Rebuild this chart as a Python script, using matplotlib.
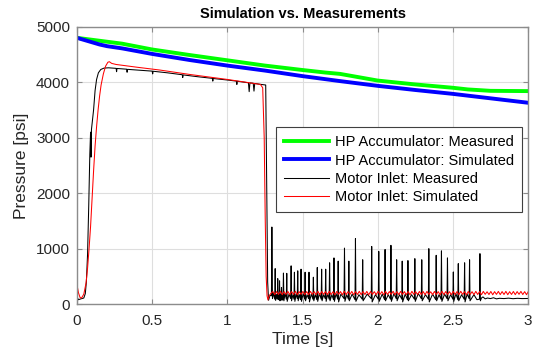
"""
    plot.py
    Simulation vs. measurements: accumulator and motor inlet pressure
"""

import matplotlib

matplotlib.use("Agg")
import matplotlib.pyplot as plt
import numpy as np
from matplotlib.ticker import FormatStrFormatter

plt.rcParams["font.family"] = ["Liberation Sans", "DejaVu Sans"]

# HP accumulator pressure [psi]
acc_meas_t = [0.0, 0.1, 0.2, 0.3, 0.5, 0.75, 1.0, 1.25, 1.5, 1.65, 1.75, 2.0, 2.25, 2.5, 2.6, 2.75, 3.0]
acc_meas_p = [4800, 4765, 4730, 4695, 4590, 4490, 4395, 4300, 4220, 4175, 4150, 4030, 3960, 3900, 3870, 3845, 3840]

acc_sim_t = [0.0, 0.05, 0.1, 0.15, 0.2, 0.3, 0.5, 0.75, 1.0, 1.25, 1.5, 1.75, 2.0, 2.25, 2.5, 2.75, 3.0]
acc_sim_p = [4800, 4760, 4720, 4680, 4650, 4610, 4510, 4400, 4300, 4210, 4110, 4020, 3935, 3860, 3790, 3710, 3630]

# Motor inlet, measured (t [s], p [psi])
motor_meas = [
    (0.000, 120), (0.010, 80), (0.025, 95), (0.045, 110), (0.055, 190), (0.062, 400),
    (0.070, 900), (0.078, 1800), (0.085, 2700), (0.090, 3100), (0.093, 2650), (0.096, 3150),
    (0.102, 3300), (0.110, 3500), (0.120, 3850), (0.130, 4050), (0.142, 4170), (0.158, 4230),
    (0.180, 4255), (0.210, 4260), (0.260, 4250), (0.263, 4190), (0.266, 4248), (0.330, 4235),
    (0.333, 4180), (0.336, 4232), (0.420, 4215), (0.500, 4200), (0.503, 4150), (0.506, 4198),
    (0.600, 4170), (0.700, 4135), (0.703, 4085), (0.706, 4132), (0.800, 4100), (0.900, 4070),
    (0.903, 4020), (0.906, 4067), (1.000, 4040), (1.060, 4020), (1.063, 3960), (1.066, 4018),
    (1.140, 3990), (1.145, 3830), (1.150, 3988), (1.172, 3982), (1.177, 3840), (1.182, 3978),
    (1.220, 3962), (1.255, 3950), (1.262, 2000), (1.268, 400), (1.274, 70), (1.284, 160),
    (1.293, 150), (1.296, 1390), (1.300, 100), (1.306, 200),
    (1.315, 90), (1.318, 640), (1.321, 70), (1.327, 170),
    (1.332, 100), (1.335, 460), (1.338, 80), (1.342, 160),
    (1.345, 90), (1.347, 420), (1.350, 60), (1.355, 180),
    (1.358, 100), (1.360, 300), (1.363, 70), (1.367, 150),
    (1.370, 80), (1.373, 560), (1.376, 60), (1.384, 190),
    (1.392, 90), (1.395, 555), (1.398, 50), (1.410, 180),
    (1.421, 100), (1.424, 690), (1.427, 60), (1.436, 170),
    (1.443, 90), (1.446, 575), (1.449, 50), (1.458, 180),
    (1.465, 100), (1.468, 600), (1.471, 60), (1.480, 170),
    (1.487, 80), (1.490, 630), (1.493, 50), (1.504, 190),
    (1.514, 90), (1.517, 575), (1.520, 60), (1.530, 170),
    (1.540, 100), (1.543, 575), (1.546, 40), (1.558, 180),
    (1.569, 90), (1.572, 485), (1.575, 60), (1.585, 170),
    (1.595, 80), (1.598, 660), (1.601, 50), (1.612, 190),
    (1.624, 90), (1.627, 630), (1.630, 60), (1.640, 170),
    (1.651, 100), (1.654, 630), (1.657, 50), (1.667, 180),
    (1.677, 90), (1.680, 745), (1.683, 60), (1.695, 170),
    (1.706, 80), (1.709, 833), (1.712, 50), (1.723, 190),
    (1.734, 90), (1.737, 775), (1.740, 40), (1.755, 180),
    (1.776, 100), (1.779, 1010), (1.782, 50), (1.794, 170),
    (1.805, 90), (1.808, 775), (1.811, 60), (1.830, 180),
    (1.849, 80), (1.852, 1180), (1.855, 50), (1.875, 170),
    (1.897, 90), (1.900, 800), (1.903, 60), (1.930, 180),
    (1.957, 100), (1.960, 1040), (1.963, 40), (1.985, 170),
    (2.004, 90), (2.007, 950), (2.010, 50), (2.030, 180),
    (2.046, 80), (2.049, 985), (2.052, 60), (2.070, 170),
    (2.085, 90), (2.088, 1060), (2.091, 50), (2.108, 190),
    (2.123, 100), (2.126, 800), (2.129, 60), (2.145, 170),
    (2.160, 90), (2.163, 775), (2.166, 40), (2.183, 180),
    (2.198, 80), (2.201, 785), (2.204, 60), (2.225, 170),
    (2.244, 90), (2.247, 820), (2.250, 50), (2.270, 190),
    (2.290, 100), (2.293, 800), (2.296, 60), (2.318, 170),
    (2.337, 90), (2.340, 1000), (2.343, 40), (2.365, 180),
    (2.386, 80), (2.389, 880), (2.392, 60), (2.408, 170),
    (2.421, 90), (2.424, 960), (2.427, 50), (2.445, 180),
    (2.461, 100), (2.464, 833), (2.467, 60), (2.485, 170),
    (2.500, 90), (2.503, 580), (2.506, 50), (2.520, 190),
    (2.533, 80), (2.536, 730), (2.539, 60), (2.558, 170),
    (2.575, 90), (2.578, 745), (2.581, 40), (2.595, 180),
    (2.608, 100), (2.611, 800), (2.614, 60), (2.640, 170), (2.660, 80),
    (2.677, 90), (2.680, 910), (2.683, 60),
    (2.690, 110), (2.700, 130), (2.715, 95), (2.730, 110), (2.750, 100), (2.770, 115),
    (2.790, 95), (2.810, 105), (2.840, 100), (2.870, 108), (2.900, 98), (2.930, 105),
    (2.960, 100), (3.000, 102),
]

# Motor inlet, simulated: start-up and pressure drop
motor_sim_t = [0.000, 0.010, 0.020, 0.030, 0.045, 0.060, 0.070, 0.080, 0.090, 0.100, 0.110,
               0.120, 0.130, 0.140, 0.150, 0.160, 0.175, 0.190, 0.205, 0.215, 0.230, 0.260,
               0.400, 0.550, 0.750, 1.000, 1.220, 1.235, 1.245, 1.252, 1.258, 1.264, 1.270,
               1.278]
motor_sim_p = [340, 200, 120, 110, 180, 380, 650, 1000, 1400, 1900, 2400,
               2850, 3200, 3500, 3750, 3950, 4150, 4290, 4360, 4370, 4340, 4320,
               4270, 4220, 4140, 4050, 3960, 3900, 3000, 1500, 500, 150, 75,
               150]

# simulated ripple after the drop, logged every 12.5 ms from t = 1.29 s
ripple_t0 = 1.29
ripple_dt = 0.0125
ripple_p = [
    195, 228, 172, 226, 175, 230, 170, 224, 176, 229, 171, 227, 174, 231, 169, 225, 177, 228, 173, 226,
    170, 229, 175, 224, 172, 230, 168, 227, 176, 225, 171, 229, 174, 223, 170, 228, 177, 226, 169, 231,
    173, 225, 176, 228, 170, 224, 175, 230, 171, 226, 174, 229, 168, 227, 176, 224, 172, 230, 175, 225,
    169, 228, 174, 226, 177, 231, 170, 224, 173, 229, 175, 225, 171, 227, 168, 230, 176, 224, 172, 228,
    174, 226, 170, 229, 177, 223, 171, 228, 175, 225, 169, 230, 173, 227, 176, 224, 170, 229, 174, 226,
    171, 231, 175, 225, 168, 228, 176, 224, 172, 230, 174, 226, 170, 229, 177, 223, 173, 228, 169, 225,
    176, 229, 172, 226, 174, 230, 170, 224, 175, 228, 171, 226, 177, 229, 173, 225, 170, 231, 174, 227,
]

x_ticks = [0, 0.5, 1, 1.5, 2, 2.5, 3]
y_ticks = [0, 1000, 2000, 3000, 4000, 5000]


def main():
    meas_t = [t for t, _ in motor_meas]
    meas_p = [p for _, p in motor_meas]
    rip_t = ripple_t0 + ripple_dt * np.arange(len(ripple_p))
    sim_t = np.concatenate([motor_sim_t, rip_t])
    sim_p = np.concatenate([motor_sim_p, ripple_p])

    fig = plt.figure(figsize=(5.35, 3.52), dpi=100)
    fig.patch.set_facecolor("white")
    ax = fig.add_axes([0.144, 0.136, 0.843, 0.788])

    ax.plot(acc_meas_t, acc_meas_p, color=(0, 1, 0), linewidth=2.8, label="HP Accumulator: Measured")
    ax.plot(acc_sim_t, acc_sim_p, color=(0, 0, 1), linewidth=2.8, label="HP Accumulator: Simulated")
    ax.plot(meas_t, meas_p, color="black", linewidth=0.75, label="Motor Inlet: Measured")
    ax.plot(sim_t, sim_p, color="red", linewidth=0.75, label="Motor Inlet: Simulated")

    ax.set_xlim(0, 3)
    ax.set_ylim(0, 5000)
    ax.set_xticks(x_ticks)
    ax.set_yticks(y_ticks)
    ax.xaxis.set_major_formatter(FormatStrFormatter("%g"))
    ax.grid(True, color="#dedede", linewidth=0.8)
    ax.set_axisbelow(True)

    for spine in ax.spines.values():
        spine.set_color("#8c8c8c")
        spine.set_linewidth(1.0)
    ax.tick_params(direction="in", top=True, right=True, length=3.5, color="#8c8c8c",
                   labelsize=11, labelcolor="#262626")
    ax.tick_params(axis="x", pad=7)
    ax.tick_params(axis="y", pad=5)

    ax.set_title("Simulation vs. Measurements", fontsize=10.5, fontweight="bold", pad=6)
    ax.set_xlabel("Time [s]", fontsize=12.5, color="#262626", labelpad=3)
    ax.set_ylabel("Pressure [psi]", fontsize=12.5, color="#262626", labelpad=5)

    leg = ax.legend(loc="upper right", bbox_to_anchor=(0.987, 0.637), borderaxespad=0,
                    fontsize=10.5, handlelength=3.1, handletextpad=0.4, labelspacing=0.28,
                    borderpad=0.55, fancybox=False, framealpha=1, edgecolor="#404040")
    leg.get_frame().set_linewidth(0.8)

    plt.savefig("out.png", dpi=100, facecolor="white")


if __name__ == "__main__":
    main()
